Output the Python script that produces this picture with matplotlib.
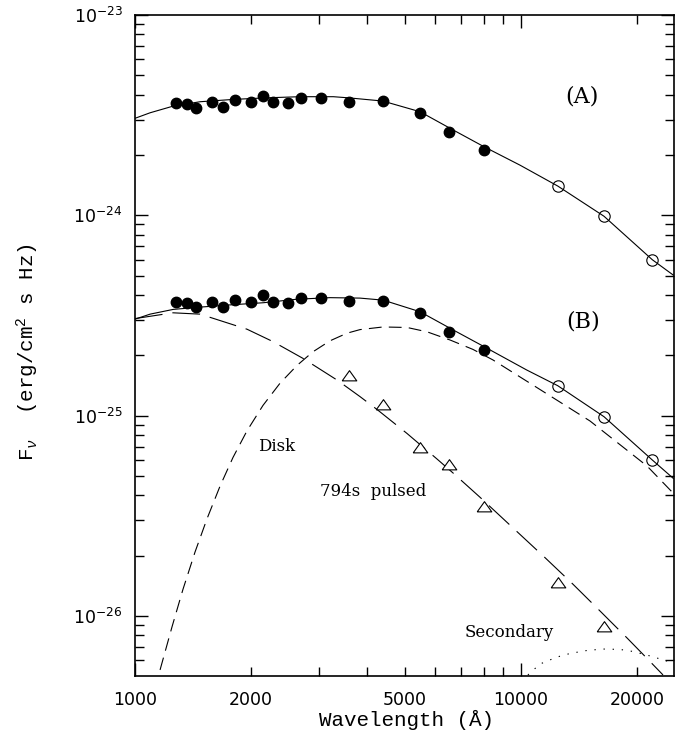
import matplotlib
matplotlib.use("Agg")
import matplotlib.pyplot as plt
from matplotlib.ticker import FixedLocator, FuncFormatter, NullFormatter

plt.rcParams["mathtext.fontset"] = "custom"
plt.rcParams["mathtext.rm"] = "Liberation Mono"
plt.rcParams["mathtext.it"] = "Liberation Mono:italic"

# --- photometry (wavelength in Angstrom, F_nu in erg/cm2/s/Hz) ---
wave_phot = [1277, 1361, 1439, 1583, 1693, 1819, 1994, 2142, 2274, 2491,
             2688, 3033, 3584, 4383, 5475, 6522, 8020]
flux_a = [3.65e-24, 3.61e-24, 3.44e-24, 3.67e-24, 3.48e-24, 3.75e-24, 3.67e-24,
          3.95e-24, 3.69e-24, 3.62e-24, 3.86e-24, 3.85e-24, 3.70e-24, 3.73e-24,
          3.23e-24, 2.61e-24, 2.12e-24]
flux_b = [3.68e-25, 3.64e-25, 3.47e-25, 3.68e-25, 3.50e-25, 3.78e-25, 3.68e-25,
          4.00e-25, 3.70e-25, 3.64e-25, 3.88e-25, 3.85e-25, 3.73e-25, 3.73e-25,
          3.24e-25, 2.61e-25, 2.13e-25]

wave_ir = [12450, 16410, 21890]
flux_ir_a = [1.40e-24, 9.89e-25, 6.00e-25]
flux_ir_b = [1.41e-25, 9.87e-26, 6.00e-26]

# pulsed flux (triangles)
wave_pulse = [3584, 4383, 5475, 6522, 8020, 12450, 16410]
flux_pulse = [1.576e-25, 1.125e-25, 6.87e-26, 5.67e-26, 3.51e-26, 1.455e-26, 8.83e-27]

# --- model curves ---
wave_tot_a = [1000, 1094, 1256, 1474, 1798, 2194, 2676, 3264, 3569, 4383, 5475,
              6548, 8020, 9940, 12450, 16410, 21890, 24800]
flux_tot_a = [3.05e-24, 3.25e-24, 3.51e-24, 3.69e-24, 3.79e-24, 3.86e-24, 3.91e-24,
              3.91e-24, 3.86e-24, 3.72e-24, 3.29e-24, 2.72e-24, 2.20e-24, 1.78e-24,
              1.40e-24, 9.89e-25, 6.00e-25, 5.03e-25]

wave_tot_b = [1000, 1094, 1256, 1445, 1763, 2150, 2624, 3201, 3827, 4398, 5475,
              6548, 8020, 10340, 12450, 16410, 21890, 24800]
flux_tot_b = [3.03e-25, 3.21e-25, 3.39e-25, 3.47e-25, 3.57e-25, 3.66e-25, 3.81e-25,
              3.88e-25, 3.86e-25, 3.77e-25, 3.30e-25, 2.73e-25, 2.21e-25, 1.69e-25,
              1.41e-25, 9.87e-26, 6.00e-26, 4.86e-26]

wave_pul = [1000, 1254, 1474, 1593, 1950, 2278, 2724, 3337, 3827, 4236, 5067,
            6059, 6666, 7831, 11540, 13640, 16020, 18820, 21210, 23330]
flux_pul = [3.05e-25, 3.26e-25, 3.21e-25, 3.06e-25, 2.70e-25, 2.34e-25, 1.93e-25,
            1.505e-25, 1.244e-25, 1.073e-25, 8.14e-26, 6.07e-26, 5.17e-26, 3.91e-26,
            1.953e-26, 1.438e-26, 1.058e-26, 7.76e-27, 6.13e-27, 5.07e-27]

wave_disk = [1161, 1247, 1331, 1430, 1537, 1661, 1794, 1950, 2146, 2375, 2629,
             2891, 3201, 3542, 3827, 4390, 5067, 5708, 6548, 7508, 8463, 10740,
             15090, 21210, 24760]
flux_disk = [5.37e-27, 8.82e-27, 1.356e-26, 2.08e-26, 3.06e-26, 4.45e-26, 6.18e-26,
             8.39e-26, 1.125e-25, 1.451e-25, 1.781e-25, 2.083e-25, 2.363e-25,
             2.579e-25, 2.687e-25, 2.77e-25, 2.754e-25, 2.62e-25, 2.385e-25, 2.14e-25,
             1.895e-25, 1.42e-25, 9.40e-26, 5.60e-26, 4.11e-26]

wave_sec = [10420, 11200, 12400, 13400, 14830, 16310, 18050, 19510, 21590, 23890, 24910]
flux_sec = [5.07e-27, 5.75e-27, 6.23e-27, 6.49e-27, 6.72e-27, 6.83e-27, 6.80e-27,
            6.64e-27, 6.31e-27, 5.95e-27, 5.78e-27]

# --- axis ticks ---
major_x = [1000, 10000]
minor_x = [2000, 3000, 4000, 5000, 6000, 7000, 8000, 9000, 20000]
labelled_minor_x = [2000, 5000, 20000]
major_exp_y = [-26, -25, -24, -23]
minor_y = [m * 10.0 ** e for e in (-27, -26, -25, -24) for m in range(2, 10)
           if m * 10.0 ** e > 5.01e-27]

mono = "Liberation Mono"
serif = "DejaVu Serif"

fig = plt.figure(figsize=(6.91, 7.40), dpi=100)
ax = fig.add_axes([0.1954, 0.0865, 0.78, 0.8932])

lw = 0.8
ax.plot(wave_tot_a, flux_tot_a, color="black", lw=lw)
ax.plot(wave_tot_b, flux_tot_b, color="black", lw=lw)
ax.plot(wave_pul, flux_pul, color="black", lw=lw, dashes=(25, 9))
ax.plot(wave_disk, flux_disk, color="black", lw=lw, dashes=(11.5, 6.5))
ax.plot(wave_sec, flux_sec, color="black", lw=lw, dashes=(1.2, 7))

ax.plot(wave_phot, flux_a, "o", color="black", ms=7.5, zorder=3)
ax.plot(wave_phot, flux_b, "o", color="black", ms=7.5, zorder=3)
ax.plot(wave_ir, flux_ir_a, "o", mfc="none", mec="black", ms=8.2, mew=0.8, zorder=3)
ax.plot(wave_ir, flux_ir_b, "o", mfc="none", mec="black", ms=8.2, mew=0.8, zorder=3)
tri = [(-1, -0.6), (1, -0.6), (0, 0.8), (-1, -0.6)]
ax.plot(wave_pulse, flux_pulse, linestyle="none", marker=tri, mfc="white",
        mec="black", ms=10.5, mew=0.8, zorder=3)

ax.set_xscale("log")
ax.set_yscale("log")
ax.set_xlim(1000, 24910)
ax.set_ylim(5.01e-27, 1e-23)

ax.xaxis.set_major_locator(FixedLocator(major_x))
ax.xaxis.set_minor_locator(FixedLocator(minor_x))
ax.xaxis.set_major_formatter(FuncFormatter(lambda v, p: f"{v:.0f}"))
ax.xaxis.set_minor_formatter(
    FuncFormatter(lambda v, p: f"{v:.0f}" if round(v) in labelled_minor_x else ""))
ax.yaxis.set_major_locator(FixedLocator([10.0 ** e for e in major_exp_y]))
ax.yaxis.set_major_formatter(
    FuncFormatter(lambda v, p: r"$\mathdefault{10^{%d}}$" % major_exp_y[p]))
ax.yaxis.set_minor_locator(FixedLocator(minor_y))
ax.yaxis.set_minor_formatter(NullFormatter())

for s in ax.spines.values():
    s.set_linewidth(1.2)
ax.tick_params(which="both", direction="in", top=True, right=True, width=1.0,
               labelsize=12.5)
ax.tick_params(which="major", length=9.5)
ax.tick_params(which="minor", length=6.2)
ax.tick_params(axis="x", which="both", pad=11)
ax.tick_params(axis="y", which="both", pad=9)

ax.text(0.503, -0.0666, "Wavelength (\u00c5)", transform=ax.transAxes,
        ha="center", va="center", fontsize=15, family=mono)
ax.text(-0.199, 0.49, r"F$_{\nu}$  (erg/cm$^{2}$ s Hz)", transform=ax.transAxes,
        ha="center", va="center", rotation=90, fontsize=15, family=mono)

ax.text(14360, 3.91e-24, "(A)", ha="center", va="center", fontsize=16, family=serif)
ax.text(14500, 2.94e-25, "(B)", ha="center", va="center", fontsize=16, family=serif)
ax.text(2329, 7.0e-26, "Disk", ha="center", va="center", fontsize=12, family=serif)
ax.text(4137, 4.16e-26, "794s  pulsed", ha="center", va="center", fontsize=12,
        family=serif)
ax.text(9338, 8.22e-27, "Secondary", ha="center", va="center", fontsize=12,
        family=serif)

fig.savefig("out.png", dpi=100)
